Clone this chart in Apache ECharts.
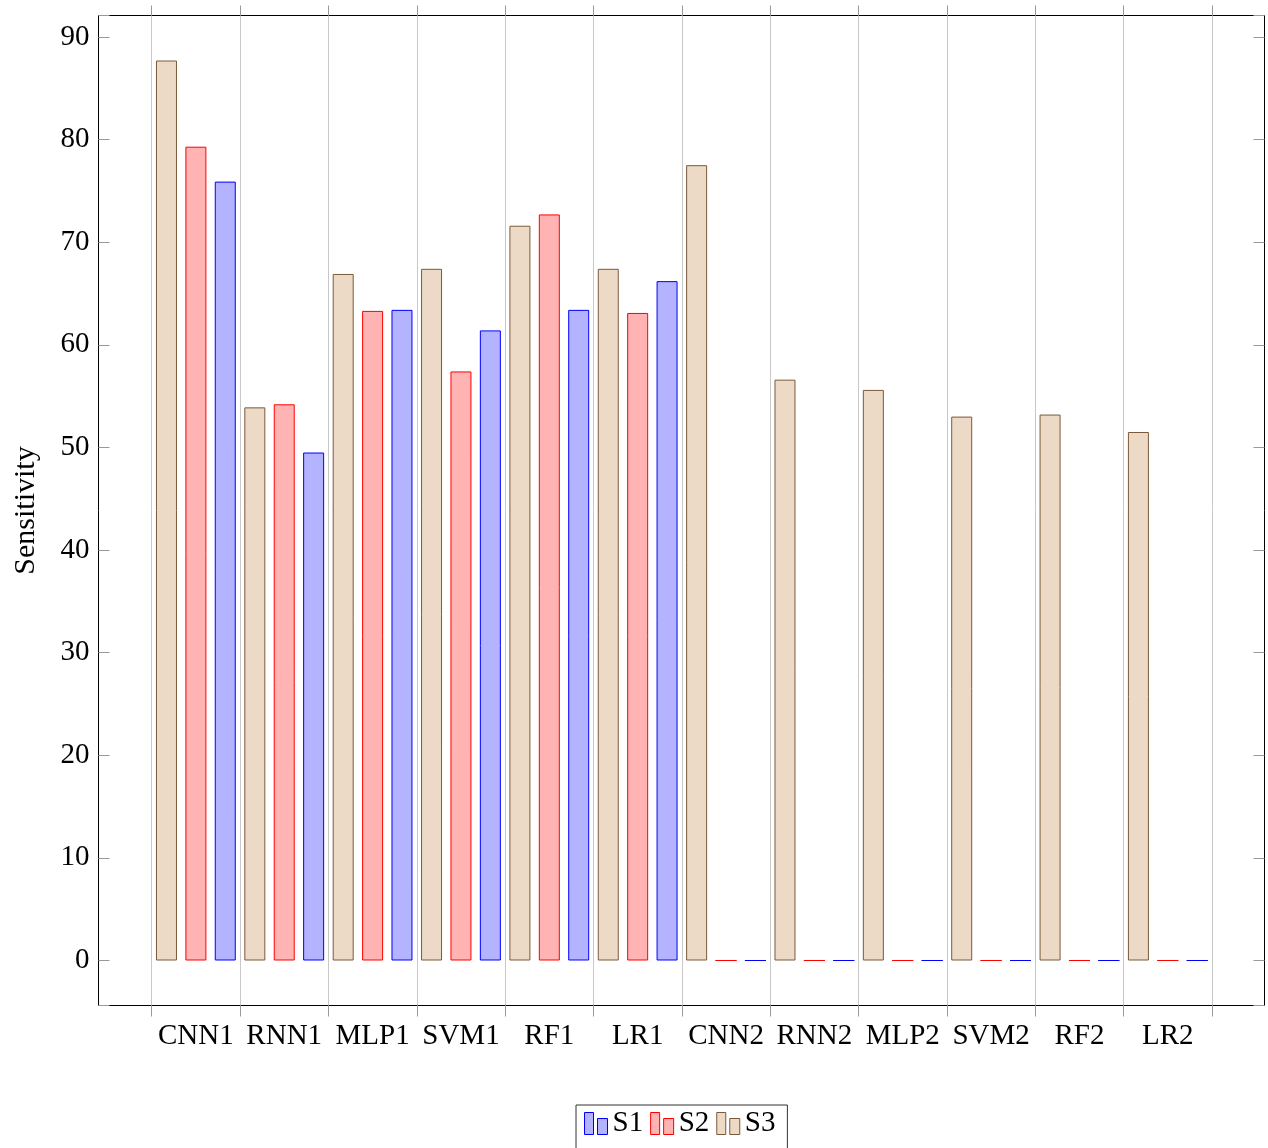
<!DOCTYPE html>
<html>
<head>
<meta charset="utf-8">
<title>Sensitivity by model</title>
<script src="https://cdn.jsdelivr.net/npm/echarts@6/dist/echarts.min.js"></script>
<style>
  html, body { margin: 0; padding: 0; background: #ffffff; }
  #chart { width: 1268px; height: 1148px; }
</style>
</head>
<body>
<div id="chart"></div>
<script>
// Model names along the x axis
const categories = ['CNN1', 'RNN1', 'MLP1', 'SVM1', 'RF1', 'LR1',
                    'CNN2', 'RNN2', 'MLP2', 'SVM2', 'RF2', 'LR2'];

// Sensitivity for each series, one value per model
const s1Values = [75.9, 49.5, 63.4, 61.4, 63.4, 66.2, 0, 0, 0, 0, 0, 0];
const s2Values = [79.3, 54.2, 63.3, 57.4, 72.7, 63.1, 0, 0, 0, 0, 0, 0];
const s3Values = [87.7, 53.9, 66.9, 67.4, 71.6, 67.4, 77.5, 56.6, 55.6, 53.0, 53.2, 51.5];

// Labelled ticks on the value axis
const yTickLabels = [0, 10, 20, 30, 40, 50, 60, 70, 80, 90];

const FONT = 'Liberation Serif';

// Value range padded by 5% of the data span on both ends
const allValues = s1Values.concat(s2Values, s3Values);
const dataMin = Math.min(...allValues);
const dataMax = Math.max(...allValues);
const pad = (dataMax - dataMin) * 0.05;
const yMin = dataMin - pad;
const yMax = dataMax + pad;

// Outer frame and the inner band that holds the categories
const FRAME = { left: 98.5, top: 15.5, width: 1166, height: 990 };
const PLOT = { left: 151.7, top: 15.5, width: 1060.3, height: 990 };

// Legend swatch: two small bars side by side
const legendIcon = 'path://M0,0H9V22H0ZM13,6H23V22H13Z';

function yLabel(v) {
  return yTickLabels.some(t => Math.abs(t - v) < 1e-6) ? String(Math.round(v)) : '';
}

const chart = echarts.init(document.getElementById('chart'), null, { renderer: 'canvas' });

function barSeries(name, values, fill, stroke) {
  return {
    name: name,
    type: 'bar',
    xAxisIndex: 1,
    yAxisIndex: 2,
    data: values,
    barWidth: 21,
    barGap: '40%',
    itemStyle: { color: fill, borderColor: stroke, borderWidth: 1 },
    emphasis: { disabled: true },
    animation: false
  };
}

const tickStyle = { color: '#999', width: 1 };

chart.setOption({
  animation: false,
  textStyle: { fontFamily: FONT },
  grid: [
    Object.assign({ show: true, borderColor: '#000', borderWidth: 1, backgroundColor: 'transparent' }, FRAME),
    Object.assign({ show: false }, PLOT)
  ],
  xAxis: [
    { type: 'value', gridIndex: 0, show: false, min: 0, max: 1 },
    {
      type: 'category', gridIndex: 1, position: 'bottom', data: categories,
      boundaryGap: true,
      axisLine: { show: false, onZero: false },
      axisTick: { show: true, inside: false, length: 11, lineStyle: tickStyle },
      axisLabel: { interval: 0, margin: 16, color: '#000', fontSize: 29, fontFamily: FONT },
      splitLine: { show: true, interval: 0, lineStyle: { color: '#c8c8c8', width: 1 } }
    },
    {
      type: 'category', gridIndex: 1, position: 'top', data: categories,
      boundaryGap: true,
      axisLine: { show: false, onZero: false },
      axisTick: { show: true, inside: false, length: 10, lineStyle: tickStyle },
      axisLabel: { show: false },
      splitLine: { show: false }
    }
  ],
  yAxis: [
    {
      type: 'value', gridIndex: 0, position: 'left', min: yMin, max: yMax,
      minInterval: 10, maxInterval: 10,
      axisLine: { show: false },
      axisTick: { show: true, inside: true, length: 11, lineStyle: tickStyle },
      axisLabel: { formatter: yLabel, margin: 9, color: '#000', fontSize: 29, fontFamily: FONT },
      splitLine: { show: false },
      name: 'Sensitivity', nameLocation: 'middle', nameRotate: 90, nameGap: 57,
      nameTextStyle: { color: '#000', fontSize: 30, fontFamily: FONT }
    },
    {
      type: 'value', gridIndex: 0, position: 'right', min: yMin, max: yMax,
      minInterval: 10, maxInterval: 10,
      axisLine: { show: false },
      axisTick: { show: true, inside: true, length: 11, lineStyle: tickStyle },
      axisLabel: { show: false },
      splitLine: { show: false }
    },
    {
      type: 'value', gridIndex: 1, min: yMin, max: yMax, show: false,
      splitLine: { show: false }
    }
  ],
  legend: {
    data: ['S1', 'S2', 'S3'],
    left: 576,
    top: 1105,
    orient: 'horizontal',
    icon: legendIcon,
    itemWidth: 23,
    itemHeight: 22,
    itemGap: 7,
    padding: [0, 12, 16, 8],
    borderColor: '#333',
    borderWidth: 1,
    selectedMode: false,
    itemStyle: { borderWidth: 1 },
    textStyle: { color: '#000', fontSize: 29, lineHeight: 29, padding: [8, 0, 0, 0], fontFamily: FONT }
  },
  series: [
    barSeries('S3', s3Values, '#ecdac6', '#7a5a3a'),
    barSeries('S2', s2Values, '#ffb3b3', '#ff0000'),
    barSeries('S1', s1Values, '#b3b3ff', '#0000ff')
  ]
});
</script>
</body>
</html>
